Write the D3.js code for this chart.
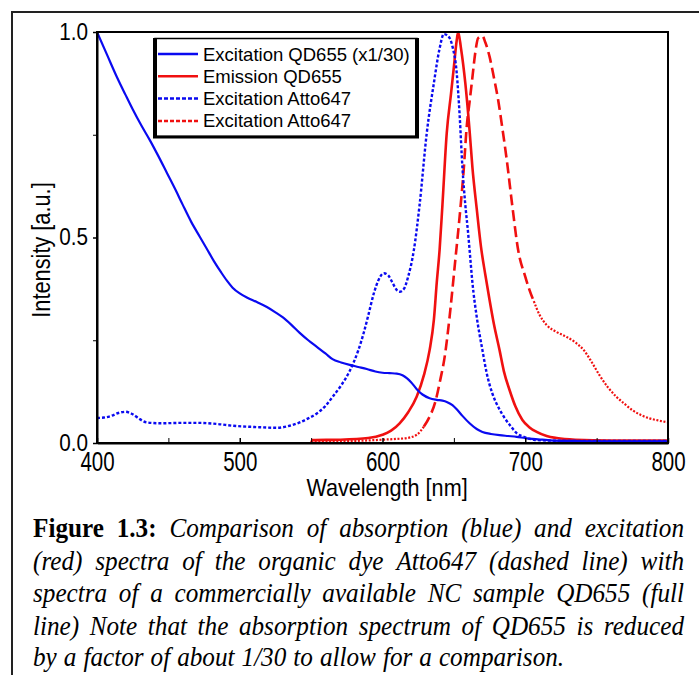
<!DOCTYPE html>
<html>
<head>
<meta charset="utf-8">
<script src="https://cdn.jsdelivr.net/npm/d3@7"></script>
<style>
	body { margin: 0; background: #fff; }
	svg { display: block; }
	.axis path, .axis line { stroke: #000; }
	.axis text { font-family: 'Liberation Sans', Arial, sans-serif; fill: #000; }
</style>
</head>
<body>
<svg id="chart" width="699" height="675"></svg>
<script>
// axis ticks
const wavelengthTicks = [400, 500, 600, 700, 800];
const wavelengthMinorTicks = [450, 550, 650, 750];
const intensityTicks = [0, 0.5, 1.0];
const intensityMinorTicks = [0.25, 0.75];

// Excitation QD655 (x1/30), blue solid
const qdExcWl = [400,407,414,420,425,431,437,443,449,455,460,466,472,477,482,487,491,495,500,505,512,519,525,530,536,542,548,554,560,565,571,577,583,589,595,600,605,610,614,617,620,624,628,633,638,642,645,649,652,656,661,666,670,676,682,688,694,700,705,712,720,735,760,800];
const qdExcVal = [1.0,0.945,0.89,0.847,0.812,0.773,0.737,0.698,0.657,0.616,0.58,0.538,0.502,0.472,0.442,0.415,0.395,0.378,0.364,0.354,0.343,0.331,0.318,0.306,0.288,0.268,0.25,0.234,0.218,0.204,0.196,0.19,0.185,0.18,0.174,0.171,0.17,0.169,0.165,0.158,0.148,0.131,0.118,0.109,0.105,0.103,0.1,0.092,0.082,0.066,0.048,0.034,0.027,0.022,0.019,0.017,0.015,0.012,0.01,0.008,0.006,0.005,0.004,0.004];

// Emission QD655, red solid
const qdEmWl = [550,551,570,590,600,606,612,618,624,629,633,636,638,640,642,645,648,650,652,653,655,658,661,663,666,669,672,675,678,682,685,689,693,698,703,708,715,722,735,760,800];
const qdEmVal = [0.0,0.007,0.008,0.012,0.02,0.03,0.048,0.075,0.113,0.165,0.226,0.3,0.39,0.47,0.58,0.754,0.85,0.915,0.98,1.0,0.96,0.876,0.76,0.67,0.57,0.477,0.41,0.348,0.29,0.226,0.175,0.129,0.09,0.056,0.038,0.027,0.017,0.012,0.008,0.006,0.006];

// Excitation Atto647, blue dotted
const attoAbsWl = [400,405,410,415,420,425,430,435,445,460,472,485,495,510,526,535,542,548,554,560,565,571,577,583,587,590,594,597,601,604,607,610,612,615,618,622,626,631,636,640,643,646,649,652,654,656,658,660,661,663,666,670,673,677,681,685,690,694,700,706,715,740,770,800];
const attoAbsVal = [0.061,0.062,0.066,0.073,0.076,0.07,0.058,0.05,0.048,0.049,0.049,0.046,0.042,0.039,0.037,0.042,0.05,0.06,0.072,0.09,0.112,0.14,0.175,0.225,0.27,0.31,0.365,0.395,0.413,0.408,0.39,0.372,0.368,0.375,0.405,0.47,0.58,0.754,0.876,0.96,0.995,0.99,0.965,0.9,0.8,0.67,0.58,0.51,0.47,0.39,0.307,0.226,0.17,0.12,0.088,0.064,0.04,0.024,0.014,0.008,0.006,0.005,0.005,0.005];

// Excitation Atto647 (second entry), red dashed
const attoEmWl = [550,580,600,610,617,624,629,633,637,640,644,647,651,654,657,659,661,663,665,667,670,672,675,678,681,684,687,691,695,700,703,706,710,715,722,729,735,741,746,752,758,764,770,775,781,787,793,800];
const attoEmVal = [0.003,0.005,0.008,0.01,0.012,0.02,0.04,0.064,0.1,0.146,0.22,0.307,0.445,0.55,0.67,0.77,0.83,0.89,0.95,0.985,0.99,0.975,0.94,0.89,0.835,0.765,0.69,0.575,0.47,0.405,0.372,0.345,0.312,0.287,0.27,0.258,0.245,0.226,0.2,0.165,0.135,0.112,0.094,0.08,0.068,0.06,0.055,0.05];

const legendLabels = ['Excitation QD655 (x1/30)', 'Emission QD655', 'Excitation Atto647', 'Excitation Atto647'];

const captionLines = [
	[['Figure', true], ['1.3:', true], ['Comparison'], ['of'], ['absorption'], ['(blue)'], ['and'], ['excitation']],
	'(red) spectra of the organic dye Atto647 (dashed line) with',
	'spectra of a commercially available NC sample QD655 (full',
	'line) Note that the absorption spectrum of QD655 is reduced',
	'by a factor of about 1/30 to allow for a comparison.'
];

const blue = '#0a0af0', red = '#f01010';

let svg = d3.select('#chart');
let margin = {top: 32, left: 97};
let width = 571, height = 411;

svg.append('rect').attr('width', 699).attr('height', 675).attr('fill', '#fff');

// outer figure frame
svg.append('path')
	.attr('d', 'M12,675V12H699')
	.attr('fill', 'none')
	.attr('stroke', '#222')
	.attr('stroke-width', 2);

let x = d3.scaleLinear().domain([400, 800]).range([0, width]);
let y = d3.scaleLinear().domain([0, 1]).range([height, 0]);

let g = svg.append('g').attr('transform', 'translate(' + margin.left + ',' + margin.top + ')');

function zipSeries(wl, val) {
	return wl.map((w, i) => ({wl: w, v: val[i]}));
}

let line = d3.line().x(d => x(d.wl)).y(d => y(d.v)).curve(d3.curveMonotoneX);

let attoEm = zipSeries(attoEmWl, attoEmVal);
// the noisy tails look finely dotted, the steep core shows long dashes
g.append('path')
	.attr('d', line(attoEm.filter(d => d.wl <= 629)))
	.attr('fill', 'none').attr('stroke', red).attr('stroke-width', 2.2)
	.attr('stroke-dasharray', '2,1.6');
g.append('path')
	.attr('d', line(attoEm.filter(d => d.wl >= 629 && d.wl <= 706)))
	.attr('fill', 'none').attr('stroke', red).attr('stroke-width', 2.6)
	.attr('stroke-dasharray', '11,5');
g.append('path')
	.attr('d', line(attoEm.filter(d => d.wl >= 706)))
	.attr('fill', 'none').attr('stroke', red).attr('stroke-width', 2.2)
	.attr('stroke-dasharray', '2,1.6');

g.append('path')
	.attr('d', line(zipSeries(qdEmWl, qdEmVal)))
	.attr('fill', 'none').attr('stroke', red).attr('stroke-width', 2.6);

g.append('path')
	.attr('d', line(zipSeries(attoAbsWl, attoAbsVal)))
	.attr('fill', 'none').attr('stroke', blue).attr('stroke-width', 2.4)
	.attr('stroke-dasharray', '3,2');

g.append('path')
	.attr('d', line(zipSeries(qdExcWl, qdExcVal)))
	.attr('fill', 'none').attr('stroke', blue).attr('stroke-width', 2.2);

// frame
g.append('rect')
	.attr('width', width).attr('height', height)
	.attr('fill', 'none').attr('stroke', '#000').attr('stroke-width', 2);

// x axis
g.append('g')
	.attr('class', 'axis')
	.attr('transform', 'translate(0,' + height + ')')
	.call(d3.axisBottom(x).tickValues(wavelengthMinorTicks).tickSizeInner(-5).tickSizeOuter(0).tickFormat(''))
	.call(a => a.select('.domain').remove());

let xAxis = g.append('g')
	.attr('class', 'axis')
	.attr('transform', 'translate(0,' + height + ')')
	.call(d3.axisBottom(x).tickValues(wavelengthTicks).tickSizeInner(-5).tickSizeOuter(0).tickPadding(9));
xAxis.select('.domain').attr('stroke-width', 2);
xAxis.selectAll('.tick line').attr('stroke-width', 1.5);
xAxis.selectAll('.tick text')
	.style('font-size', '27px')
	.attr('transform', 'scale(0.76,1)');

// y axis
g.append('g')
	.attr('class', 'axis')
	.call(d3.axisLeft(y).tickValues(intensityMinorTicks).tickSizeInner(4).tickSizeOuter(0).tickFormat(''))
	.call(a => a.select('.domain').remove());

let yAxis = g.append('g')
	.attr('class', 'axis')
	.call(d3.axisLeft(y).tickValues(intensityTicks).tickSizeInner(4).tickSizeOuter(0).tickPadding(6).tickFormat(d3.format('.1f')));
yAxis.select('.domain').attr('stroke-width', 2);
yAxis.selectAll('.tick line').attr('stroke-width', 1.5);
yAxis.selectAll('.tick text')
	.style('font-size', '23px')
	.attr('transform', 'scale(0.9,1)');

// axis titles
svg.append('text')
	.attr('transform', 'translate(387,496) scale(0.9,1)')
	.attr('text-anchor', 'middle')
	.style('font-family', "'Liberation Sans', Arial, sans-serif")
	.style('font-size', '24px')
	.text('Wavelength [nm]');

svg.append('text')
	.attr('transform', 'translate(50,250) rotate(-90) scale(0.87,1)')
	.attr('text-anchor', 'middle')
	.style('font-family', "'Liberation Sans', Arial, sans-serif")
	.style('font-size', '25px')
	.text('Intensity [a.u.]');

// legend
let legend = svg.append('g');
legend.append('rect')
	.attr('x', 155).attr('y', 38.5).attr('width', 262).attr('height', 98)
	.attr('fill', '#fff').attr('stroke', '#000').attr('stroke-width', 1.5);
legend.append('line').attr('x1', 155).attr('x2', 155).attr('y1', 38).attr('y2', 138)
	.attr('stroke', '#000').attr('stroke-width', 4);
legend.append('line').attr('x1', 417).attr('x2', 417).attr('y1', 38).attr('y2', 138)
	.attr('stroke', '#000').attr('stroke-width', 4);
legend.append('line').attr('x1', 153).attr('x2', 419).attr('y1', 137).attr('y2', 137)
	.attr('stroke', '#000').attr('stroke-width', 3);

let legendStyles = [
	{color: blue, dash: null},
	{color: red, dash: null},
	{color: blue, dash: '4,2'},
	{color: red, dash: '4,2'}
];
legendLabels.forEach((label, i) => {
	let cy = 54 + i * 22.3;
	legend.append('line')
		.attr('x1', 158).attr('x2', 198).attr('y1', cy).attr('y2', cy)
		.attr('stroke', legendStyles[i].color).attr('stroke-width', 2.5)
		.attr('stroke-dasharray', legendStyles[i].dash);
	legend.append('text')
		.attr('x', 203).attr('y', cy + 6.5)
		.style('font-family', "'Liberation Sans', Arial, sans-serif")
		.style('font-size', '18.5px')
		.text(label);
});

// caption, justified between x0 and x1, glyphs a bit condensed
let capX0 = 33, capX1 = 684, capScale = 0.9;
let capY = [537, 569.5, 602, 634.5, 666];
captionLines.forEach((ln, i) => {
	let words = typeof ln === 'string' ? ln.split(' ').map(w => [w]) : ln;
	let t = svg.append('text')
		.attr('transform', 'translate(' + capX0 + ',' + capY[i] + ') scale(' + capScale + ',1)')
		.style('font-family', "'Liberation Serif', 'Times New Roman', serif")
		.style('font-size', '28px');
	let spans = words.map(w => t.append('tspan')
		.style('font-weight', w[1] ? 'bold' : 'normal')
		.style('font-style', w[1] ? 'normal' : 'italic')
		.text(w[0]));
	let widths = spans.map(s => s.node().getComputedTextLength());
	let total = d3.sum(widths);
	let span = (capX1 - capX0) / capScale;
	let gap = i < captionLines.length - 1 ? (span - total) / (words.length - 1) : 7 / capScale;
	let cx = 0;
	spans.forEach((s, j) => {
		s.attr('x', cx);
		cx += widths[j] + gap;
	});
});
</script>
</body>
</html>
